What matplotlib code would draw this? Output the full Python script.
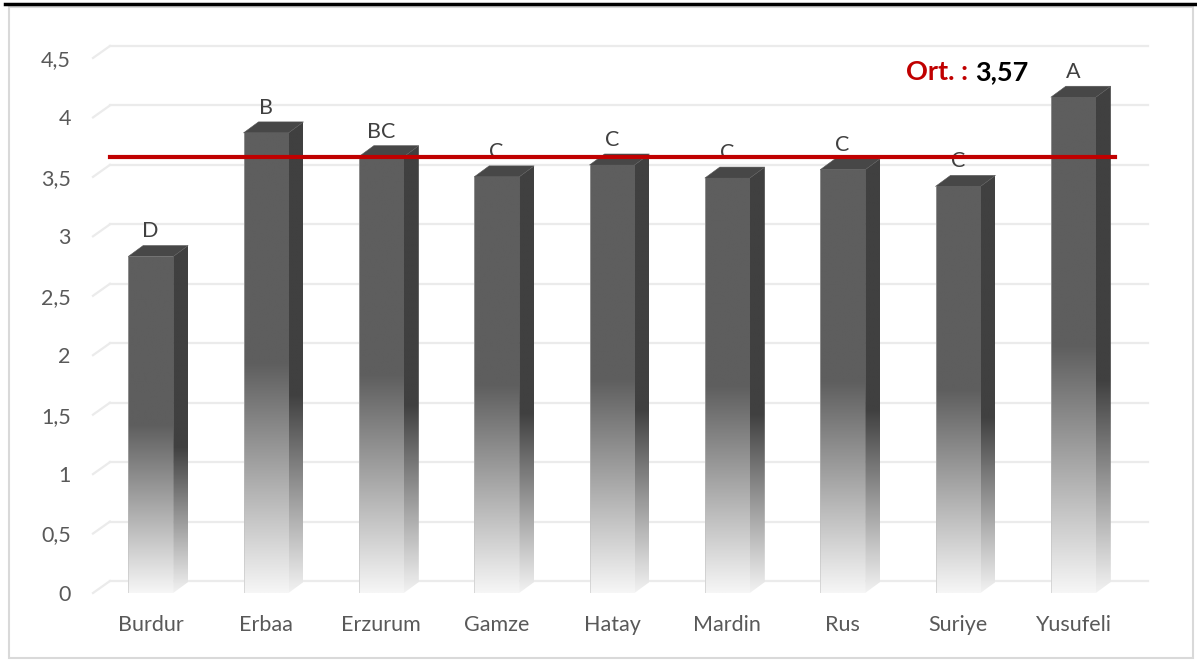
import matplotlib
matplotlib.use('Agg')
import matplotlib.pyplot as plt
import numpy as np
from matplotlib.patches import Polygon, Rectangle
from matplotlib.lines import Line2D

plt.rcParams['font.family'] = ['Lato', 'DejaVu Sans']

# data
cities = ['Burdur', 'Erbaa', 'Erzurum', 'Gamze', 'Hatay', 'Mardin', 'Rus', 'Suriye', 'Yusufeli']
values = [2.83, 3.87, 3.67, 3.50, 3.60, 3.49, 3.56, 3.42, 4.17]
groups = ['D', 'B', 'BC', 'C', 'C', 'C', 'C', 'C', 'A']
mean_value = 3.57
mean_label = '3,57'
yticks = [0, 0.5, 1, 1.5, 2, 2.5, 3, 3.5, 4, 4.5]
ytick_labels = ['0', '0,5', '1', '1,5', '2', '2,5', '3', '3,5', '4', '4,5']

# fake 3d depth (in data units)
gdx, gdy = 0.147, 0.101   # wall / floor depth
bdx, bdy = 0.13, 0.0925   # bar depth
half_w = 0.195

fig = plt.figure(figsize=(11.97, 6.6), dpi=100)
ax = fig.add_axes([93 / 1197, 67 / 660, 1038 / 1197, 535 / 660])
ax.set_xlim(-0.5, 8.5)
ax.set_ylim(0, 4.5)
for s in ax.spines.values():
    s.set_visible(False)

grid_col = '#ebebeb'
for y in yticks:
    ax.plot([-0.5 + gdx, 8.5 + gdx], [y + gdy, y + gdy], color=grid_col, lw=1.6, zorder=1, clip_on=False)
    ax.plot([-0.5, -0.5 + gdx], [y, y + gdy], color=grid_col, lw=1.6, zorder=1, clip_on=False)


def gradient(n, top, bottom, knee):
    t = np.linspace(0, 1, n)
    f = np.clip((t - knee) / (1 - knee), 0, 1)
    top = np.array(top) / 255.0
    bottom = np.array(bottom) / 255.0
    col = top[None, :] * (1 - f[:, None]) + bottom[None, :] * f[:, None]
    return col[:, None, :]


front_grad = gradient(300, (94, 94, 94), (246, 246, 246), 0.5)
side_grad = gradient(300, (64, 64, 64), (242, 242, 242), 0.58)

for i, v in enumerate(values):
    x0, x1 = i - half_w, i + half_w
    # side face
    side = Polygon([(x1, 0), (x1 + bdx, bdy), (x1 + bdx, v + bdy), (x1, v)], closed=True,
                   facecolor='none', edgecolor='none', zorder=2, clip_on=False)
    ax.add_patch(side)
    im = ax.imshow(side_grad, extent=[x1, x1 + bdx, 0, v + bdy], aspect='auto', zorder=2,
                   interpolation='bilinear')
    im.set_clip_path(side)
    # top face
    ax.add_patch(Polygon([(x0, v), (x1, v), (x1 + bdx, v + bdy), (x0 + bdx, v + bdy)], closed=True,
                         facecolor='#474747', edgecolor='#555555', lw=0.4, zorder=3, clip_on=False))
    # front face
    bars = ax.bar(i, v, width=2 * half_w, color='none', edgecolor='none', zorder=3)
    front = bars[0]
    im2 = ax.imshow(front_grad, extent=[x0, x1, 0, v], aspect='auto', zorder=3, interpolation='bilinear')
    im2.set_clip_path(front)
    ax.plot([x0, x0], [0, v], color='#bdbdbd', lw=0.6, alpha=0.6, zorder=3.5)
    # letter
    ax.annotate(groups[i], xy=(i, v + bdy), xytext=(0, 3), textcoords='offset points',
                ha='center', va='bottom', fontsize=15.5, color='#404040', zorder=4)

ax.set_xlim(-0.5, 8.5)
ax.set_ylim(0, 4.5)

# mean line
ax.plot([-0.5 + gdx, 8.36], [mean_value + gdy] * 2, color='#c00000', lw=3, zorder=5, clip_on=False)
t1 = ax.text(6.55, 4.38, 'Ort. : ', color='#c00000', fontsize=19.5, fontweight='bold', va='center', ha='left')
ax.annotate(mean_label, xy=(1, 0.5), xycoords=t1, va='center', ha='left',
            color='black', fontsize=19.5, fontweight='bold')

ax.set_xticks(range(len(cities)))
ax.set_xticklabels(cities, fontsize=15.5, color='#595959')
ax.set_yticks(yticks)
ax.set_yticklabels(ytick_labels, fontsize=15.5, color='#595959')
ax.tick_params(axis='both', length=0)
ax.tick_params(axis='x', pad=16)
ax.tick_params(axis='y', pad=16)

# frame
fig.add_artist(Rectangle((9 / 1197, 2 / 660), 1184 / 1197, 651 / 660, transform=fig.transFigure,
                         fill=False, edgecolor='#d9d9d9', lw=1.5))
fig.add_artist(Line2D([5 / 1197, 1], [656 / 660, 656 / 660], transform=fig.transFigure, color='black', lw=2.5))

fig.savefig('out.png', dpi=100)
